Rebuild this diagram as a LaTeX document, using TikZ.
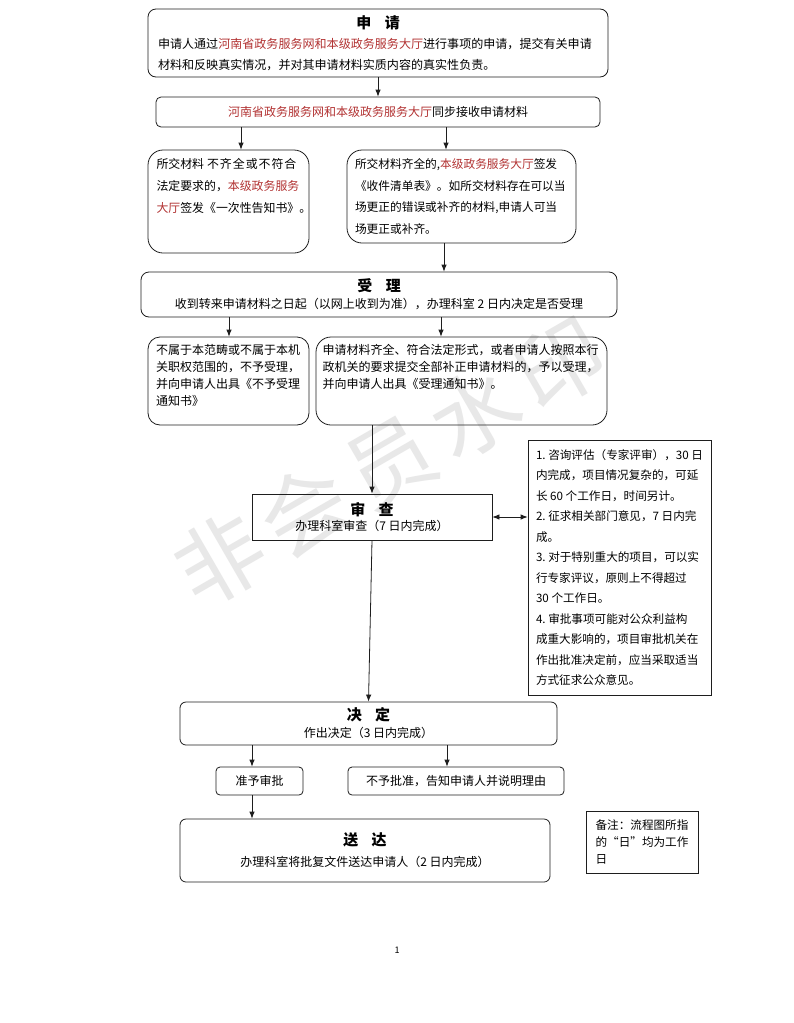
\documentclass[tikz,border=0pt]{standalone}
\usepackage{fontspec}
\setmainfont{Noto Sans CJK SC}
\usetikzlibrary{arrows.meta}
\definecolor{hred}{RGB}{178,50,50}
\definecolor{lnc}{RGB}{30,30,30}
\newcommand{\hr}[1]{\textcolor{hred}{#1}}
\newcommand{\ttl}[1]{{\fontsize{15}{18}\selectfont\bfseries #1}}
\begin{document}
\begin{tikzpicture}[x=1pt,y=-1pt,
  rbox/.style={draw=lnc, line width=0.8pt, rounded corners=#1, inner sep=0pt},
  rbox/.default=8pt,
  sbox/.style={draw=lnc, line width=0.8pt, inner sep=0pt},
  arr/.style={-{Latex[length=7pt,width=5.5pt]}, line width=0.8pt, draw=lnc},
  darr/.style={{Latex[length=7pt,width=5.5pt]}-{Latex[length=7pt,width=5.5pt]}, line width=0.8pt, draw=lnc}
]
\fill[white] (0,0) rectangle (793,1023);
\useasboundingbox (0,0) rectangle (793,1023);

% watermark
\node[text=black!9, rotate=30, font=\fontsize{88}{90}\selectfont] (wm) at (390,462)
  {非\hspace{10pt}会\hspace{10pt}员\hspace{10pt}水\hspace{10pt}印};

% boxes
\node[rbox=8pt, minimum width=460pt, minimum height=68pt, text width=440pt, align=left,
      font=\fontsize{12.05}{20.5}\selectfont] (b1) at (378,43)
  {\makebox[440pt]{\ttl{申\hspace{0.9em}请}}\\
   申请人通过\hr{河南省政务服务网和本级政务服务大厅}进行事项的申请，提交有关申请\\
   材料和反映真实情况，并对其申请材料实质内容的真实性负责。};

\node[rbox=5pt, minimum width=444pt, minimum height=30pt, font=\fontsize{12}{15}\selectfont] (b2) at (378,112)
  {\hr{河南省政务服务网和本级政务服务大厅}同步接收申请材料};

\node[rbox=15pt, minimum width=161pt, minimum height=103pt, font=\fontsize{11.9}{22}\selectfont] (b3) at (228.5,201.5)
  {\parbox[c][87pt][t]{144pt}{\raggedright 所交材料\hspace{3pt}不\hspace{1pt}齐\hspace{1pt}全\hspace{1pt}或\hspace{1pt}不\hspace{1pt}符\hspace{1pt}合\\法定要求的，\hr{本级政务服务}\\\hr{大厅}签发《一次性告知书》。}};

\node[rbox=15pt, minimum width=229pt, minimum height=93pt, font=\fontsize{11.7}{21.5}\selectfont] (b4) at (461.5,196.5)
  {\parbox{213pt}{\raggedright 所交材料齐全的,\hr{本级政务服务大厅}签发\\《收件清单表》。如所交材料存在可以当\\场更正的错误或补齐的材料,申请人可当\\场更正或补齐。}};

\node[rbox=8pt, minimum width=476pt, minimum height=45pt, align=center, font=\fontsize{12}{17}\selectfont] (b5) at (379,294.5)
  {\ttl{受\hspace{0.9em}理}\\收到转来申请材料之日起（以网上收到为准），办理科室 2 日内决定是否受理};

\node[rbox=12pt, minimum width=161pt, minimum height=88pt, font=\fontsize{12}{17}\selectfont] (b6) at (228.5,381)
  {\parbox[c][74pt][t]{145pt}{\raggedright 不属于本范畴或不属于本机\\关职权范围的，不予受理，\\并向申请人出具《不予受理\\通知书》}};

\node[rbox=15pt, minimum width=291pt, minimum height=88pt, font=\fontsize{12}{17}\selectfont] (b7) at (461.5,381)
  {\parbox[c][74pt][t]{278pt}{\raggedright 申请材料齐全、符合法定形式，或者申请人按照本行\\政机关的要求提交全部补正申请材料的，予以受理，\\并向申请人出具《受理通知书》。}};

\node[sbox, minimum width=240pt, minimum height=46pt, align=center, font=\fontsize{12}{15}\selectfont] (sc) at (372,517)
  {\ttl{审\hspace{0.9em}查}\\办理科室审查（7 日内完成）};

\node[sbox, minimum width=183pt, minimum height=255pt, align=left, font=\fontsize{11.6}{20.5}\selectfont] (nt) at (619.5,567.5)
  {1.~咨询评估（专家评审），30~日\\内完成，项目情况复杂的，可延\\长~60~个工作日，时间另计。\\2.~征求相关部门意见，7~日内完\\成。\\3.~对于特别重大的项目，可以实\\行专家评议，原则上不得超过\\30~个工作日。\\4.~审批事项可能对公众利益构\\成重大影响的，项目审批机关在\\作出批准决定前，应当采取适当\\方式征求公众意见。};

\node[rbox=6pt, minimum width=377pt, minimum height=43pt, align=center, font=\fontsize{12}{17}\selectfont] (jd) at (368.5,723.5)
  {\ttl{决\hspace{0.9em}定}\\作出决定（3 日内完成）};

\node[rbox=4pt, minimum width=87pt, minimum height=28pt, font=\fontsize{12}{15}\selectfont] (zy) at (259.5,781) {准予审批};
\node[rbox=4pt, minimum width=216pt, minimum height=28pt, font=\fontsize{12}{15}\selectfont] (by) at (456,781) {不予批准，告知申请人并说明理由};

\node[rbox=6pt, minimum width=370pt, minimum height=63pt, align=center, font=\fontsize{12}{17}\selectfont] (sd) at (365,850.5)
  {\ttl{送\hspace{0.9em}达}\\[4pt]办理科室将批复文件送达申请人（2 日内完成）};

\node[sbox, minimum width=112pt, minimum height=62pt, align=left, font=\fontsize{11.6}{17}\selectfont] (bz) at (642,842)
  {备注：流程图所指\\的“日”均为工作\\日\hspace{82pt}};

\node[font=\fontsize{9}{10}\selectfont] (pg) at (397,950) {1};

% connector x positions
\coordinate (x1) at (241,0);
\coordinate (x2) at (446,0);
\coordinate (x3) at (444,0);
\coordinate (x4) at (229,0);
\coordinate (x5) at (441,0);
\coordinate (x6) at (252,0);
\coordinate (x7) at (447,0);

\draw[arr] (b1) -- (b2);
\draw[arr] (b2.south -| x1) -- (b3.north -| x1);
\draw[arr] (b2.south -| x2) -- (b4.north -| x2);
\draw[arr] (b4.south -| x3) -- (b5.north -| x3);
\draw[arr] (b5.south -| x4) -- (b6.north -| x4);
\draw[arr] (b5.south -| x5) -- (b7.north -| x5);
\draw[arr] (b7.south -| sc) -- (sc.north);
\draw[darr] (sc.east) -- (sc.east -| nt.west);
\draw[arr] (sc.south) -- (jd.north);
\draw[arr] (jd.south -| x6) -- (zy.north -| x6);
\draw[arr] (jd.south -| x7) -- (by.north -| x7);
\draw[arr] (zy.south -| x6) -- (sd.north -| x6);
\end{tikzpicture}
\end{document}
